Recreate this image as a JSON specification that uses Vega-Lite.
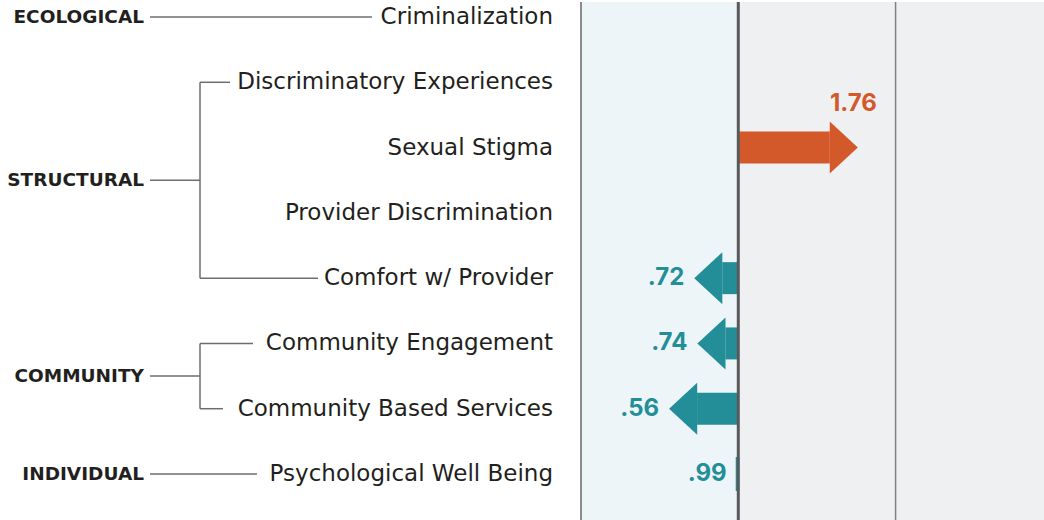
{
  "$schema": "https://vega.github.io/schema/vega-lite/v6.json",
  "padding": 0,
  "spacing": 0,
  "background": "white",
  "config": {"view": {"stroke": null}, "font": "Inter"},
  "datasets": {
    "factors": [
      {"level": "ECOLOGICAL", "factor": "Criminalization", "or": null, "orText": null},
      {"level": "STRUCTURAL", "factor": "Discriminatory Experiences", "or": null, "orText": null},
      {"level": "STRUCTURAL", "factor": "Sexual Stigma", "or": 1.76, "orText": "1.76"},
      {"level": "STRUCTURAL", "factor": "Provider Discrimination", "or": null, "orText": null},
      {"level": "STRUCTURAL", "factor": "Comfort w/ Provider", "or": 0.72, "orText": ".72"},
      {"level": "COMMUNITY", "factor": "Community Engagement", "or": 0.74, "orText": ".74"},
      {"level": "COMMUNITY", "factor": "Community Based Services", "or": 0.56, "orText": ".56"},
      {"level": "INDIVIDUAL", "factor": "Psychological Well Being", "or": 0.99, "orText": ".99"}
    ]
  },
  "hconcat": [
    {
      "width": 580,
      "height": 520,
      "data": {"name": "factors"},
      "transform": [
        {"window": [{"op": "row_number", "as": "rowNum"}]},
        {"joinaggregate": [
          {"op": "min", "field": "rowNum", "as": "first"},
          {"op": "max", "field": "rowNum", "as": "last"},
          {"op": "count", "as": "n"}
        ], "groupby": ["level"]}
      ],
      "layer": [
        {
          "transform": [{"calculate": "553", "as": "labelRight"}],
          "mark": {"type": "text", "align": "right", "baseline": "middle", "font": "DejaVu Sans", "fontSize": 23, "color": "#231f20"},
          "encoding": {
            "x": {"field": "labelRight", "type": "quantitative", "scale": {"domain": [0, 580], "nice": false, "zero": false}, "axis": null},
            "y": {"field": "rowNum", "type": "quantitative", "scale": {"domain": [1, 8], "range": [15, 472], "padding": 0, "nice": false, "zero": false}, "axis": null},
            "text": {"field": "factor"}
          }
        },
        {
          "transform": [
            {"aggregate": [{"op": "mean", "field": "rowNum", "as": "mid"}], "groupby": ["level"]},
            {"calculate": "144", "as": "levelRight"}
          ],
          "mark": {"type": "text", "align": "right", "baseline": "middle", "font": "DejaVu Sans", "fontSize": 18.5, "fontWeight": "bold", "color": "#231f20"},
          "encoding": {
            "x": {"field": "levelRight", "type": "quantitative"},
            "y": {"field": "mid", "type": "quantitative"},
            "text": {"field": "level"}
          }
        },
        {
          "transform": [
            {"filter": "datum.n > 1"},
            {"aggregate": [{"op": "mean", "field": "rowNum", "as": "mid"}], "groupby": ["level"]},
            {"calculate": "150", "as": "stubStart"},
            {"calculate": "200", "as": "stubEnd"}
          ],
          "mark": {"type": "rule", "color": "#6d6e71", "strokeWidth": 1.5},
          "encoding": {
            "x": {"field": "stubStart", "type": "quantitative"},
            "x2": {"field": "stubEnd"},
            "y": {"field": "mid", "type": "quantitative"}
          }
        },
        {
          "transform": [
            {"filter": "datum.n > 1 && datum.rowNum == datum.first"},
            {"calculate": "200", "as": "bracketX"}
          ],
          "mark": {"type": "rule", "color": "#6d6e71", "strokeWidth": 1.5},
          "encoding": {
            "x": {"field": "bracketX", "type": "quantitative"},
            "y": {"field": "first", "type": "quantitative"},
            "y2": {"field": "last"}
          }
        },
        {
          "transform": [
            {"filter": "datum.rowNum == datum.first || datum.rowNum == datum.last"},
            {"calculate": "datum.n > 1 ? 200 : 150", "as": "linkStart"},
            {"calculate": "datum.factor == 'Criminalization' ? 372 : datum.factor == 'Discriminatory Experiences' ? 230 : datum.factor == 'Comfort w/ Provider' ? 318 : datum.factor == 'Community Engagement' ? 253 : datum.factor == 'Community Based Services' ? 223 : 257", "as": "linkEnd"}
          ],
          "mark": {"type": "rule", "color": "#6d6e71", "strokeWidth": 1.5},
          "encoding": {
            "x": {"field": "linkStart", "type": "quantitative"},
            "x2": {"field": "linkEnd"},
            "y": {"field": "rowNum", "type": "quantitative"}
          }
        }
      ]
    },
    {
      "width": 464,
      "height": 520,
      "data": {"name": "factors"},
      "transform": [
        {"window": [{"op": "row_number", "as": "rowNum"}]},
        {"calculate": "1", "as": "nullOR"}
      ],
      "layer": [
        {
          "data": {"values": [{"lo": 0, "hi": 1, "side": "lower"}, {"lo": 1, "hi": 2.95, "side": "higher"}]},
          "mark": {"type": "rect"},
          "encoding": {
            "x": {"field": "lo", "type": "quantitative", "scale": {"domain": [0, 2.95], "nice": false, "zero": false, "padding": 0}, "axis": null},
            "x2": {"field": "hi"},
            "color": {"field": "side", "type": "nominal", "scale": {"domain": ["lower", "higher"], "range": ["#eef5f8", "#eff0f2"]}, "legend": null}
          }
        },
        {
          "data": {"values": [{"ref": 0}]},
          "mark": {"type": "rule", "color": "#8a8b8d", "strokeWidth": 2},
          "encoding": {"x": {"field": "ref", "type": "quantitative"}}
        },
        {
          "data": {"values": [{"ref": 2}]},
          "mark": {"type": "rule", "color": "#808184", "strokeWidth": 1.5},
          "encoding": {"x": {"field": "ref", "type": "quantitative"}}
        },
        {
          "transform": [{"filter": "datum.or != null && datum.or > 1.05"}],
          "mark": {"type": "bar", "orient": "horizontal", "height": 32, "color": "#d4592a", "x2Offset": -28},
          "encoding": {
            "x": {"field": "nullOR", "type": "quantitative"},
            "x2": {"field": "or"},
            "y": {"field": "rowNum", "type": "quantitative", "scale": {"domain": [1, 8], "range": [15, 472], "padding": 0, "nice": false, "zero": false}, "axis": null}
          }
        },
        {
          "transform": [{"filter": "datum.or != null && datum.or < 0.95"}],
          "mark": {"type": "bar", "orient": "horizontal", "height": 32, "color": "#238e98", "xOffset": 28},
          "encoding": {
            "x": {"field": "or", "type": "quantitative"},
            "x2": {"field": "nullOR"},
            "y": {"field": "rowNum", "type": "quantitative"}
          }
        },
        {
          "transform": [{"filter": "datum.or != null && datum.or >= 0.95 && datum.or <= 1.05"}],
          "mark": {"type": "bar", "orient": "horizontal", "height": 32, "color": "#238e98", "stroke": "#238e98", "strokeWidth": 2},
          "encoding": {
            "x": {"field": "or", "type": "quantitative"},
            "x2": {"field": "nullOR"},
            "y": {"field": "rowNum", "type": "quantitative"}
          }
        },
        {
          "transform": [{"filter": "datum.or != null && datum.or > 1.05"}],
          "mark": {"type": "point", "shape": "M0,0L-1.08,-1L-1.08,1Z", "size": 2704, "filled": true, "opacity": 1, "strokeWidth": 0, "color": "#d4592a"},
          "encoding": {
            "x": {"field": "or", "type": "quantitative"},
            "y": {"field": "rowNum", "type": "quantitative"}
          }
        },
        {
          "transform": [{"filter": "datum.or != null && datum.or < 0.95"}],
          "mark": {"type": "point", "shape": "M0,0L1.08,-1L1.08,1Z", "size": 2704, "filled": true, "opacity": 1, "strokeWidth": 0, "color": "#238e98"},
          "encoding": {
            "x": {"field": "or", "type": "quantitative"},
            "y": {"field": "rowNum", "type": "quantitative"}
          }
        },
        {
          "data": {"values": [{"ref": 1}]},
          "mark": {"type": "rule", "color": "#58595b", "strokeWidth": 3},
          "encoding": {"x": {"field": "ref", "type": "quantitative"}}
        },
        {
          "transform": [{"filter": "datum.or != null && datum.or > 1"}],
          "mark": {"type": "text", "align": "right", "baseline": "middle", "dx": 19, "dy": -44, "fontSize": 24, "fontWeight": "bold", "color": "#d4592a"},
          "encoding": {
            "x": {"field": "or", "type": "quantitative"},
            "y": {"field": "rowNum", "type": "quantitative"},
            "text": {"field": "orText"}
          }
        },
        {
          "transform": [{"filter": "datum.or != null && datum.or < 1"}],
          "mark": {"type": "text", "align": "right", "baseline": "middle", "dx": -10, "fontSize": 24, "fontWeight": "bold", "color": "#238e98"},
          "encoding": {
            "x": {"field": "or", "type": "quantitative"},
            "y": {"field": "rowNum", "type": "quantitative"},
            "text": {"field": "orText"}
          }
        }
      ]
    }
  ]
}
